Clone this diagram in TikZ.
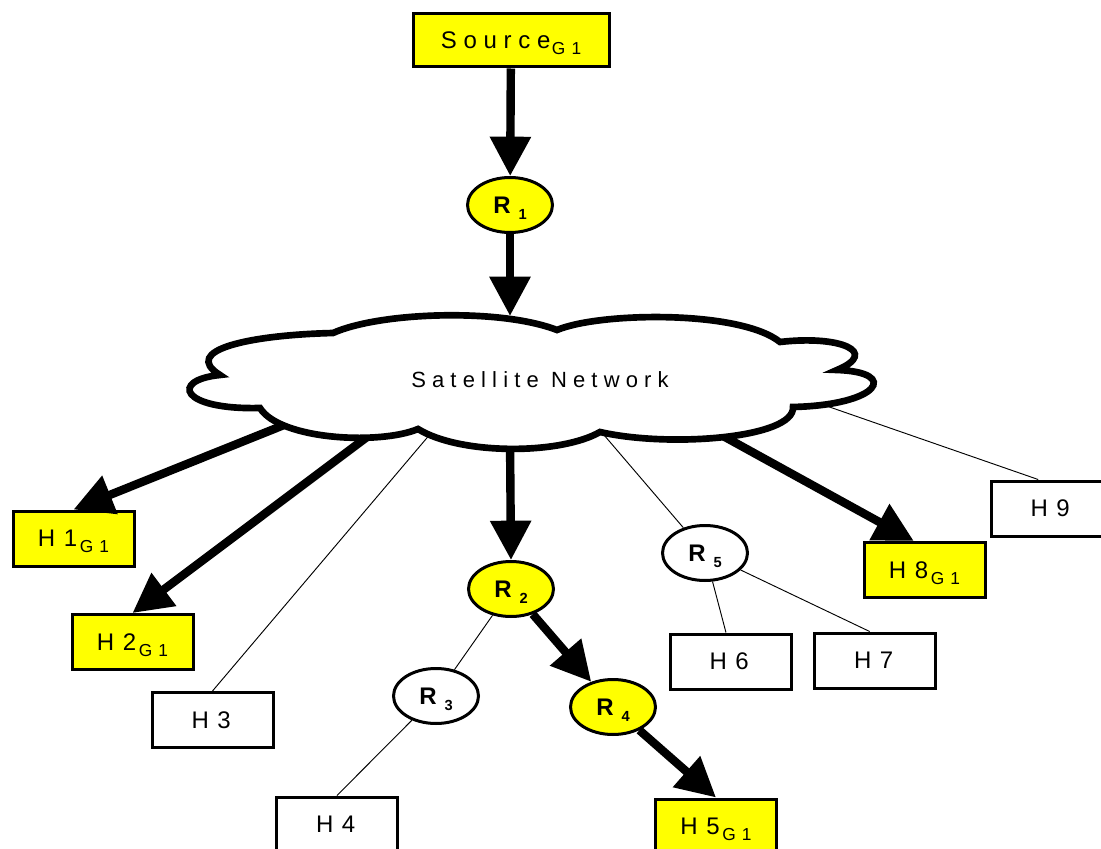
\documentclass[tikz,border=0pt]{standalone}
\usepackage{fontspec}
\setmainfont{Liberation Sans}
\newfontfamily\widefont[LetterSpace=28]{Liberation Sans}
\newfontfamily\hostfont[LetterSpace=8]{Liberation Sans}
\usetikzlibrary{arrows.meta,shapes.geometric,calc}
\definecolor{grpyellow}{RGB}{255,255,0}

% host label with a lowered group tag
\newcommand{\hostlabel}[2]{{\hostfont\fontsize{18}{18}\selectfont #1}\kern2pt\smash{\raisebox{-4.5pt}{\hostfont\fontsize{13}{13}\selectfont #2}}}
% router label R with a lowered index
\newcommand{\rtrlabel}[1]{{\bfseries\fontsize{18}{18}\selectfont R}\kern6pt\smash{\raisebox{-5pt}{\bfseries\fontsize{11}{11}\selectfont #1}}}

\tikzset{
  flow/.style={line width=6.3pt, -{Triangle[length=29.5pt,width=29.5pt]}},
  link/.style={line width=0.7pt},
  host/.style={draw, line width=2.25pt, minimum width=90.75pt, minimum height=41.25pt,
    inner sep=0pt, fill=white, font=\hostfont},
  member/.style={host, fill=grpyellow},
  router/.style={ellipse, draw, line width=2.25pt, minimum width=63.75pt,
    minimum height=41.25pt, inner sep=0pt, fill=white},
  grprouter/.style={router, fill=grpyellow},
  cloudline/.style={draw=black, fill=white, line width=5pt, line join=miter}
}

\begin{document}
\begin{tikzpicture}[x=0.75pt, y=-0.75pt]
\useasboundingbox (0,0) rectangle (1101,849);
\fill[white] (0,0) rectangle (1101,849);
\clip (0,0) rectangle (1101,849);

% ---- nodes ----
\node[member, minimum width=147pt, minimum height=39.75pt] (src) at (511,40.5)
  {\widefont\fontsize{18}{18}\selectfont Source\kern1pt\smash{\raisebox{-4.5pt}{\hostfont\fontsize{13}{13}\selectfont G 1}}};
\node[grprouter] (r1) at (510,205) {\rtrlabel{1}};
\node[grprouter] (r2) at (511,589) {\rtrlabel{2}};
\node[router]    (r3) at (436,696) {\rtrlabel{3}};
\node[grprouter] (r4) at (613,707) {\rtrlabel{4}};
\node[router]    (r5) at (705,553) {\rtrlabel{5}};

\node[member] (h1) at (73.5,538.5) {\hostlabel{H 1}{G 1}};
\node[member] (h2) at (132.5,642)  {\hostlabel{H 2}{G 1}};
\node[host]   (h3) at (212.5,720)  {\hostlabel{H 3}{}};
\node[host]   (h4) at (337,824.5)  {\hostlabel{H 4}{}};
\node[member] (h5) at (716,826.5)  {\hostlabel{H 5}{G 1}};
\node[host]   (h6) at (730.5,661.5) {\hostlabel{H 6}{}};
\node[host]   (h7) at (875,660.5)  {\hostlabel{H 7}{}};
\node[member] (h8) at (924.5,570)  {\hostlabel{H 8}{G 1}};
\node[host]   (h9) at (1051.5,508.5) {\hostlabel{H 9}{}};

% ---- attachment points just inside the cloud outline ----
\coordinate (c-h1) at (294,421);
\coordinate (c-h2) at (379,428);
\coordinate (c-h3) at (437,426);
\coordinate (c-r2) at (510,438);
\coordinate (c-r5) at (592,421);
\coordinate (c-h8) at (714,431);
\coordinate (c-h9) at (818,403);
\coordinate (c-top) at (510,316);

% ---- links leaving the cloud (drawn under it) ----
\draw[flow] (c-h1) -- (h1.north);
\draw[flow] (c-h2) -- (h2.north);
\draw[link] (c-h3) -- (h3.north);
\draw[flow] (c-r2) -- (r2.north);
\draw[link] (c-r5) -- (r5);
\draw[flow] (c-h8) -- ([xshift=-8pt]h8.north);
\draw[link] (c-h9) -- ([xshift=-10pt]h9.north);

% ---- satellite network cloud ----
\path[cloudline]
  (333,333) .. controls (380,312) and (500,308) .. (557,330)
            .. controls (600,312) and (740,310) .. (780,342)
            .. controls (840,335) and (880,352) .. (837,370)
            .. controls (900,372) and (880,405) .. (793,407)
            .. controls (795,438) and (670,448) .. (600,432)
            .. controls (560,455) and (460,455) .. (418,429)
            .. controls (380,445) and (280,440) .. (260,408)
            .. controls (180,410) and (170,380) .. (220,375)
            .. controls (180,350) and (250,335) .. (333,333) -- cycle;
\node[font=\widefont\fontsize{16.5}{16.5}\selectfont] (net) at (540,380) {Satellite Network};

% ---- remaining links ----
\draw[flow] (src) -- (r1);
\draw[flow] (r1) -- (c-top);
\draw[flow] (r2) -- (r4);
\draw[link] (r2) -- (r3);
\draw[link] (r3) -- (h4.north);
\draw[flow] (r4) -- (h5.north);
\draw[link] (r5) -- ([xshift=-3.4pt]h6.north);
\draw[link] (r5) -- ([xshift=-4pt]h7.north);
\end{tikzpicture}
\end{document}
